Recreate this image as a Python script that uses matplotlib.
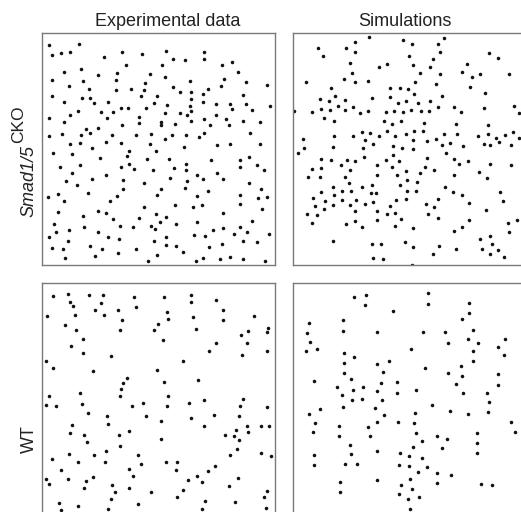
import matplotlib
matplotlib.use("Agg")
import matplotlib.pyplot as plt

plt.rcParams['font.family'] = ['Liberation Sans', 'DejaVu Sans']

# Column titles and row labels
col_titles = ["Experimental data", "Simulations"]
row_labels = [("Smad1/5", "CKO"), ("WT", "")]

# Cell positions (field units, 0..699 x, 0..696 y, y measured downward)
exp_cko_x = [22,112,29,57,84,240,299,373,487,187,394,430,487,251,360,540,571,65,118,226,587,168,325,370,
             31,124,223,445,547,612,308,82,393,538,674,141,223,268,307,413,446,499,297,345,484,603,29,119,144,
             65,157,198,337,375,446,483,521,563,612,684,238,258,312,445,569,630,108,176,212,370,413,448,435,84,
             290,522,22,194,486,552,65,290,357,446,602,654,240,358,398,505,561,133,168,143,625,22,60,118,209,
             281,327,391,431,472,485,191,368,84,115,236,325,427,526,563,654,150,
             34,90,175,256,260,341,315,380,506,595,621,54,114,238,260,275,334,396,432,432,594,644,666,90,192,
             466,484,524,542,72,149,243,307,384,436,104,244,621,357,429,497,656,139,226,344,466,593,649,676,19,
             47,65,205,399,453,481,594,659,47,167,193,307,341,544,122,212,291,372,354,466,631,37,127,234,273,
             327,403,544,595,43,82,167,340,514,614,21,197,232,371,455,488,575,682,77,336,372,401,539,603,646,
             31,63,143,181,282,229,423,502,160,346,69,319,461,484,534,564,603,670]
exp_cko_y = [36,33,66,59,57,57,64,54,57,72,79,82,78,95,95,97,86,116,107,119,116,127,123,133,
             141,143,141,143,139,147,151,160,162,159,155,167,171,169,171,178,176,169,188,190,184,186,190,194,194,
             208,210,206,210,215,199,206,214,214,214,220,226,226,226,219,228,232,234,237,237,241,240,235,245,245,
             252,247,256,256,258,258,267,270,266,264,265,267,277,277,273,275,277,289,284,300,300,310,303,305,307,
             305,304,307,307,311,301,326,318,332,331,329,332,342,337,332,333,346,
             359,364,376,368,353,354,378,378,382,380,373,401,396,401,394,408,411,406,394,411,403,397,410,421,425,
             426,439,419,439,443,439,441,449,435,443,456,469,451,468,465,474,467,479,489,485,489,486,494,491,493,
             484,503,503,517,523,515,513,529,536,534,540,522,542,541,550,558,556,553,566,566,564,572,583,580,583,
             578,574,584,582,598,592,596,587,592,598,611,613,619,613,607,609,602,603,624,624,636,638,634,624,628,
             645,649,640,647,649,661,657,643,668,667,675,683,685,674,679,673,677,683]

sim_cko_x = [228,330,357,453,436,186,160,76,186,90,347,442,420,588,614,172,283,259,359,523,410,176,380,442,
             506,538,561,648,39,152,186,224,367,430,532,113,292,320,345,364,447,575,126,237,291,81,107,155,314,
             340,375,411,4,58,83,111,134,157,181,200,224,278,303,329,354,385,409,435,483,504,573,663,679,93,123,
             274,297,323,392,489,586,206,232,259,281,306,338,364,391,217,123,181,361,401,428,453,491,555,586,609,
             636,661,677,29,34,120,210,241,300,326,359,448,472,511,572,591,618,654,
             14,458,300,403,482,85,113,162,187,213,278,318,499,525,590,653,58,84,143,172,252,297,397,422,339,380,
             558,44,81,155,253,312,342,371,484,582,169,237,208,321,456,119,85,122,148,175,233,248,342,370,480,508,
             622,60,95,148,170,190,216,241,310,338,436,629,65,92,120,398,423,529,292,186,251,281,307,43,71,405,579,
             56,158,186,207,251,324,434,528,644,671,306,361,508,484,647,121,237,265,336,361,437,488,560,590,597,
             566,615,590,421,240,269,634,358]
sim_cko_y = [11,22,34,14,32,26,44,46,57,70,70,58,77,61,75,89,92,103,97,92,101,121,119,124,
             117,133,124,124,146,137,148,145,148,153,162,166,164,164,168,184,188,181,189,195,192,198,204,200,209,
             204,210,204,234,238,227,231,219,231,221,241,234,237,233,237,231,234,234,221,221,238,224,220,240,255,263,
             264,272,264,269,274,275,297,299,309,295,309,302,293,295,320,310,309,320,323,318,304,304,310,304,316,
             306,297,316,317,345,343,345,334,339,346,347,335,329,338,334,337,326,337,
             360,360,365,375,377,378,381,380,385,372,381,385,393,385,393,397,407,405,396,410,396,403,401,412,415,421,
             417,433,433,432,425,427,440,448,427,436,449,455,463,455,461,461,477,485,475,475,481,481,473,473,477,485,
             476,494,504,502,515,500,512,508,500,498,497,504,519,528,516,514,521,511,520,533,534,544,540,544,545,542,532,
             570,573,565,583,560,558,556,562,571,560,579,585,581,594,596,625,632,632,626,642,640,649,619,610,634,
             647,651,662,664,675,678,672,696]

exp_wt_x = [32,79,83,93,140,184,178,160,186,227,276,282,367,446,447,523,542,542,374,377,452,635,14,99,68,101,
            239,233,349,335,463,596,619,674,678,123,88,123,206,363,523,501,615,600,674,13,32,154,344,424,255,243,
            237,365,468,
            21,115,233,377,487,603,13,42,121,269,304,375,442,595,674,138,196,311,446,515,592,91,199,357,487,614,
            658,682,85,125,231,261,550,575,582,618,591,136,233,357,81,156,193,289,564,586,657,686,30,107,188,298,
            373,404,520,58,262,403,499,12,20,79,131,154,273,438,464,479,588,125,211,261,422,560,218,328,676,208,
            406,666,50,287,489,580,56,109,199,479,672]
exp_wt_y = [39,34,56,70,37,35,60,82,96,82,43,72,43,35,56,51,82,112,88,107,101,99,100,96,127,141,
            112,141,122,141,137,156,144,146,134,169,189,211,219,171,181,203,179,217,203,233,256,263,261,235,284,301,
            318,297,290,
            340,330,340,339,351,347,366,370,362,370,360,368,360,368,372,390,398,400,406,396,400,425,424,413,428,428,
            430,430,450,457,457,443,456,459,441,447,471,477,489,469,513,517,504,517,515,499,511,519,528,536,536,542,
            538,538,549,561,558,562,565,588,604,589,595,583,580,591,578,597,585,615,607,615,620,610,627,628,623,649,
            641,643,659,663,653,658,682,669,677,679,675]

sim_wt_x = [183,218,217,405,405,529,300,529,506,47,151,43,151,252,389,455,540,52,38,73,466,525,556,635,614,
            153,354,540,632,153,183,252,287,539,503,397,153,271,464,508,614,63,175,265,313,490,614,133,179,209,
            252,313,370,510,582,148,
            177,207,267,150,247,82,49,273,416,472,525,587,586,366,65,139,226,253,315,362,655,665,59,139,232,370,
            432,463,387,551,551,172,360,446,252,321,551,63,175,349,386,63,157,192,317,349,403,374,432,475,352,142,
            251,432,325,358,563,598,141,317,344,377,350]
sim_wt_y = [43,35,67,31,62,61,84,90,108,120,111,150,143,148,148,148,142,177,205,197,179,167,179,169,191,
            211,199,205,215,239,223,243,235,235,248,254,270,268,270,279,274,294,289,299,296,304,307,311,320,311,
            324,329,322,329,329,335,
            350,349,351,372,375,379,392,396,366,384,392,357,388,390,419,428,432,418,416,420,416,447,447,460,460,449,
            458,469,473,451,479,485,491,495,504,510,510,515,513,519,526,547,543,543,545,550,552,568,570,576,588,596,
            592,600,606,618,602,606,628,632,649,641,679]

FIG_W, FIG_H = 521, 512
fig = plt.figure(figsize=(FIG_W / 100, FIG_H / 100), dpi=100)
fig.patch.set_facecolor('white')

# panel boxes in pixels: (left, top, width, height)
boxes = [(42, 33, 233, 232), (293, 33, 233, 232),
         (42, 283, 233, 232), (293, 283, 233, 232)]
series = [(exp_cko_x, exp_cko_y), (sim_cko_x, sim_cko_y),
          (exp_wt_x, exp_wt_y), (sim_wt_x, sim_wt_y)]

for (l, t, w, h), (xs, ys) in zip(boxes, series):
    ax = fig.add_axes([l / FIG_W, 1 - (t + h) / FIG_H, w / FIG_W, h / FIG_H])
    ax.scatter(xs, ys, s=6.5, c='#111111', linewidths=0)
    ax.set_xlim(0, 699)
    ax.set_ylim(696, 0)
    ax.set_xticks([])
    ax.set_yticks([])
    for sp in ax.spines.values():
        sp.set_color('#7a7a7a')
        sp.set_linewidth(1.0)

# column titles
fig.text(168 / FIG_W, 1 - 21 / FIG_H, col_titles[0], ha='center', va='center',
         fontsize=13, color='#222222')
fig.text(405 / FIG_W, 1 - 21 / FIG_H, col_titles[1], ha='center', va='center',
         fontsize=13, color='#222222')

# row labels
fig.text(29 / FIG_W, 1 - 181 / FIG_H, row_labels[0][0], ha='center', va='center',
         rotation=90, fontsize=13, style='italic', color='#222222')
fig.text(19 / FIG_W, 1 - 124 / FIG_H, row_labels[0][1], ha='center', va='center',
         rotation=90, fontsize=12.5, color='#222222')
fig.text(29 / FIG_W, 1 - 439 / FIG_H, row_labels[1][0], ha='center', va='center',
         rotation=90, fontsize=13, color='#222222')

fig.savefig('out.png', dpi=100, facecolor='white')
